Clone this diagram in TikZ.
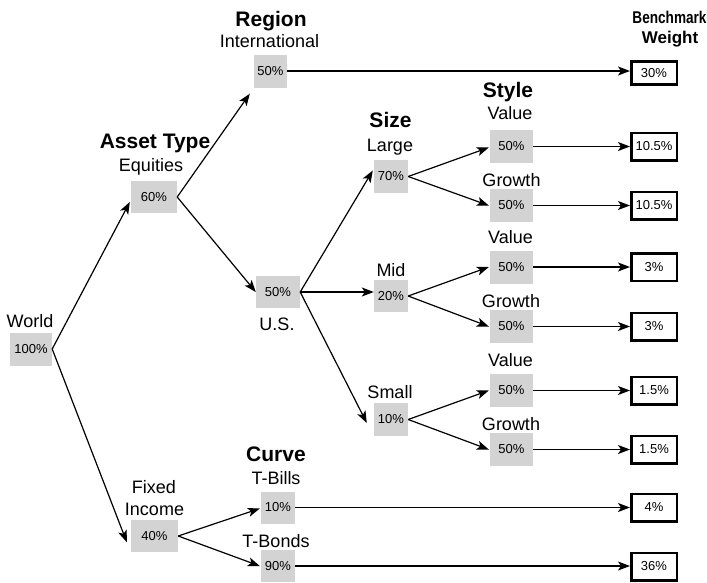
\documentclass[tikz,border=0pt]{standalone}
\usepackage{fontspec}
\usepackage{graphicx}
\setmainfont{Liberation Sans}
\usetikzlibrary{arrows.meta,calc}
\definecolor{boxgray}{RGB}{211,211,211}
\begin{document}
\begin{tikzpicture}[x=1pt,y=-1pt,
  pct/.style={fill=boxgray, inner sep=0pt, minimum height=33pt, font=\fontsize{13}{13}\selectfont},
  bench/.style={draw=black, line width=2.5pt, fill=white, inner sep=0pt, minimum width=45.5pt, minimum height=27.5pt, font=\fontsize{13}{13}\selectfont},
  lbl/.style={anchor=base, inner sep=0pt, font=\fontsize{18}{18}\selectfont},
  hdr/.style={anchor=base, inner sep=0pt, font=\fontsize{21}{21}\selectfont\bfseries},
  bhdr/.style={anchor=base, inner sep=0pt, font=\fontsize{17}{17}\selectfont\bfseries},
  arr/.style={line width=1.2pt, -{Stealth[length=12pt,width=9pt,inset=3pt]}}]
\useasboundingbox (0,0) rectangle (707,582);

% percentage boxes
\node[pct, minimum width=42pt] (world) at (31,349) {100\%};
\node[pct, minimum width=46pt, minimum height=32pt] (equities) at (154,197) {60\%};
\node[pct, minimum width=33pt] (intl) at (270.5,71) {50\%};
\node[pct, minimum width=44pt, minimum height=32pt] (us) at (278,292) {50\%};
\node[pct, minimum width=34pt] (large) at (391,176.5) {70\%};
\node[pct, minimum width=34pt, minimum height=32pt] (mid) at (391,296) {20\%};
\node[pct, minimum width=34pt] (small) at (391,419.5) {10\%};
\node[pct, minimum width=43pt] (lv) at (511.5,146.5) {50\%};
\node[pct, minimum width=43pt] (lg) at (511.5,205.5) {50\%};
\node[pct, minimum width=43pt] (mv) at (511.5,267) {50\%};
\node[pct, minimum width=43pt] (mg) at (511.5,326.5) {50\%};
\node[pct, minimum width=43pt] (sv) at (511.5,390.5) {50\%};
\node[pct, minimum width=43pt] (sg) at (511.5,449.5) {50\%};
\node[pct, minimum width=47pt, minimum height=32pt] (fixed) at (154.5,536) {40\%};
\node[pct, minimum width=34pt, minimum height=32pt] (tbills) at (278,507.5) {10\%};
\node[pct, minimum width=34pt, minimum height=32pt] (tbonds) at (278,566) {90\%};

% benchmark boxes
\node[bench, minimum height=23pt] (b1) at (654,73) {30\%};
\node[bench] (b2) at (654,146.5) {10.5\%};
\node[bench] (b3) at (654,205.5) {10.5\%};
\node[bench] (b4) at (654,267) {3\%};
\node[bench] (b5) at (654,326.5) {3\%};
\node[bench] (b6) at (654,390.5) {1.5\%};
\node[bench] (b7) at (654,449.5) {1.5\%};
\node[bench] (b8) at (654,507.5) {4\%};
\node[bench] (b9) at (654,566.5) {36\%};

% labels
\node[lbl] (lworld) at (30,327) {World};
\node[hdr] (hasset) at (155,148.5) {Asset Type};
\node[lbl] (lequities) at (151,171) {Equities};
\node[hdr] (hregion) at (271,26) {Region};
\node[lbl] (lintl) at (269.5,47.5) {International};
\node[bhdr] (hbench) at (669.5,23.5) {\scalebox{0.8}[1]{Benchmark}};
\node[bhdr] (hweight) at (670,43.5) {Weight};
\node[hdr] (hsize) at (390.5,127) {Size};
\node[lbl] (llarge) at (390,151) {Large};
\node[hdr] (hstyle) at (508,97) {Style};
\node[lbl] (llv) at (510,119) {Value};
\node[lbl] (llg) at (511.5,186) {Growth};
\node[lbl] (lmid) at (391,276) {Mid};
\node[lbl] (lus) at (277,330) {U.S.};
\node[lbl] (lmv) at (510.5,243) {Value};
\node[lbl] (lmg) at (511,307) {Growth};
\node[lbl] (lsmall) at (390,398) {Small};
\node[lbl] (lsv) at (510.5,366) {Value};
\node[lbl] (lsg) at (511,430) {Growth};
\node[lbl] (lfixed) at (154,493) {Fixed};
\node[lbl] (lincome) at (154.5,515) {Income};
\node[hdr] (hcurve) at (276,461) {Curve};
\node[lbl] (ltbills) at (276,484.5) {T-Bills};
\node[lbl] (ltbonds) at (276,547) {T-Bonds};

% tree connectors
\draw[arr] (world.east) -- ($(equities.west)+(-1,5)$);
\draw[arr] (world.east) -- ($(fixed.south west)+(-4,-10)$);
\draw[arr] (equities.east) -- ($(intl.south west)+(-4,6)$);
\draw[arr] (equities.east) -- (us.west);
\draw[arr] (us.east) -- ($(large.west)+(-1,-6)$);
\draw[arr] (us.east) -- (us.east -| mid.west);
\draw[arr] (us.east) -- ($(small.west)+(-7,3.5)$);
\draw[arr] (large.east) -- ($(lv.west)+(-1,1)$);
\draw[arr] (large.east) -- ($(lg.west)+(-1,0)$);
\draw[arr] (mid.east) -- ($(mv.west)+(-1,0)$);
\draw[arr] (mid.east) -- ($(mg.west)+(-1,0)$);
\draw[arr] (small.east) -- ($(sv.west)+(-1,0)$);
\draw[arr] (small.east) -- ($(sg.west)+(-1,0)$);
\draw[arr] (fixed.east) -- ($(tbills.west)+(-1,1)$);
\draw[arr] (fixed.east) -- ($(tbonds.west)+(-1,0)$);

% connectors to benchmark weights
\draw[arr] (intl.east) -- (intl.east -| b1.west);
\draw[arr] (lv.east) -- (lv.east -| b2.west);
\draw[arr] (lg.east) -- (lg.east -| b3.west);
\draw[arr] (mv.east) -- (mv.east -| b4.west);
\draw[arr] (mg.east) -- (mg.east -| b5.west);
\draw[arr] (sv.east) -- (sv.east -| b6.west);
\draw[arr] (sg.east) -- (sg.east -| b7.west);
\draw[arr] (tbills.east) -- (tbills.east -| b8.west);
\draw[arr] (tbonds.east) -- (tbonds.east -| b9.west);
\end{tikzpicture}
\end{document}
